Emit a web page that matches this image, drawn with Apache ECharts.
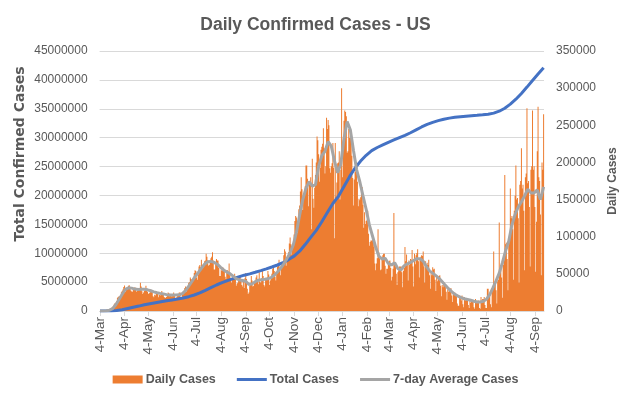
<!DOCTYPE html>
<html><head><meta charset="utf-8">
<script src="https://cdn.jsdelivr.net/npm/echarts@6/dist/echarts.min.js"></script>
<style>html,body{margin:0;padding:0;background:#fff}#c{width:631px;height:394px}</style>
</head><body><div id="c"></div>
<script>
// ---- data ----
const startDate = '2020-03-04';      // first day on the axis
const dayCount = 561;                // 2020-03-04 .. 2021-09-15
const tickDayOfMonth = 4;            // axis labels "4-Mar", "4-Apr", ...
const monthNames = ['Jan','Feb','Mar','Apr','May','Jun','Jul','Aug','Sep','Oct','Nov','Dec'];

// daily confirmed cases (thousands), one row per week starting Wednesday
const dailyCasesK = [
0.03,0.07,0.07,0.1,0.12,0.19,0.29,
0.4,0.5,0.7,0.8,1.0,1.3,1.9,
2.7,4.6,5.8,7.0,9.0,10.7,11.0,
13.3,17.8,19.0,19.8,19.5,21.2,25.2,
27.0,29.0,32.4,34.2,25.7,29.5,30.5,
32.0,34.0,34.5,30.0,27.7,26.4,26.0,
29.5,31.0,32.0,30.0,26.0,27.0,27.0,
29.0,29.5,38.0,33.0,26.5,23.0,25.0,
27.0,30.0,34.0,29.0,26.0,23.0,24.0,
25.0,29.0,27.0,25.0,20.0,18.5,22.0,
21.0,27.0,25.0,24.0,18.5,22.0,21.0,
23.0,27.0,24.0,22.0,19.0,18.0,18.0,
19.0,23.0,25.0,24.0,20.0,22.0,20.0,
20.0,22.0,25.0,22.0,18.0,17.0,19.0,
21.0,23.0,25.0,25.0,19.0,19.0,23.0,
25.0,27.0,31.0,33.0,26.0,29.0,33.0,
38.0,39.0,45.0,43.0,40.0,39.0,45.0,
51.0,55.0,54.0,45.0,42.0,49.0,60.0,
62.0,59.0,69.0,62.0,60.0,59.0,67.0,
68.0,77.0,73.0,68.0,61.0,62.0,66.0,
71.0,73.0,79.0,68.0,56.0,56.0,64.0,
70.0,68.0,68.0,58.0,47.0,47.0,56.0,
54.0,59.0,58.0,53.0,46.0,43.0,55.0,
55.0,53.0,64.0,48.0,42.0,38.0,44.0,
47.0,46.0,50.0,44.0,34.0,37.0,38.0,
44.0,46.0,46.0,43.0,35.0,33.0,42.0,
31.0,44.0,51.0,43.0,30.0,23.0,25.0,
34.0,36.0,47.0,41.0,33.0,34.0,39.0,
39.0,45.0,48.0,42.0,36.0,52.0,39.0,
38.0,44.0,55.0,47.0,35.0,33.0,43.0,
44.0,45.0,54.0,49.0,35.0,41.0,44.0,
50.0,57.0,58.0,54.0,46.0,41.0,52.0,
60.0,64.0,69.0,55.0,48.0,59.0,61.0,
63.0,75.0,83.0,80.0,61.0,67.0,74.0,
79.0,91.0,99.0,90.0,76.0,85.0,91.0,
103,121,128,126,105,119,137,
142,161,180,164,136,157,161,
168,196,196,178,141,170,174,
180,110,205,151,139,166,183,
200,235,230,211,174,193,217,
221,225,246,219,185,195,260,
245,257,250,192,186,195,199,
226,193,98,226,154,173,199,
200,215,150,190,300,180,230,
256,270,268,262,213,215,245,
233,236,242,209,179,142,177,
187,192,190,174,141,151,149,
153,166,167,143,112,133,117,
121,123,135,104,88,93,95,
95,103,100,86,64,55,64,
71,110,79,71,55,56,72,
75,77,77,61,50,57,57,
66,67,68,58,41,46,57,
132,63,60,50,35,52,55,
60,60,60,52,32,54,58,
86,67,76,62,41,68,62,
70,69,82,60,33,77,63,
75,78,83,67,45,71,73,
75,74,80,60,38,67,62,
65,62,69,48,30,52,48,
59,56,57,42,27,48,40,
46,47,48,34,20,35,32,
36,38,36,26,15,29,26,
30,29,31,21,12,23,22,
25,22,21,10,7,7,19,
17,14,21,9,5,19,14,
17,16,16,8,4,15,11,
15,13,12,5,3,16,11,
14,13,14,4,3,19,12,
16,16,19,8,4,4,30,
30,22,24,9,5,30,32,
80,36,38,28,10,40,42,
119,58,60,45,18,62,68,
183,90,92,70,28,88,100,
165,125,128,110,42,135,155,
196,150,152,125,38,170,175,
219,165,170,135,55,180,185,
273,172,175,140,60,190,195,
270,190,195,140,53,120,215,
275,180,175,130,48,200,190,
265
];

// 7-day average cases (thousands), read every 4 days from startDate
const avgStepDays = 4;
const avg7K = [
0.04,0.15,0.35,1.1,3.2,8.5,15.5,22.5,29,31.2,
30.8,29.5,29,29.2,29.3,28.5,27.2,25.8,24.5,23.7,
23,22,21.7,21.5,21.5,21.8,23.3,27.5,33.5,39.7,
46.2,51.5,57.5,63,66.3,66.8,65.5,63,59,55.3,
52.5,50.3,47,43.5,41.8,41,40,35.7,36.5,39.5,
41.5,42.2,42.8,43.5,45,48,52.5,57.5,63.5,70.5,
78.5,89,106,129,150,165,174,168,170,195,
209,215,228,222,202,186,198,232,255,244,
216,190,174,155,137,116,101,86,74,70,
71,64,62,65,57,55.5,61,63.5,65.5,68,
70.5,70.5,67,60,54,51,47.5,44,39.5,34.5,
30,26,22.5,20,18,16.5,15.5,14.5,13.2,12.2,
12.2,13,16,22,31,40.5,51,65,81,94,
116,130,140,147,155,164,159,159,163,150,167
];

// total confirmed cases (millions), read every 7 days from startDate
const totalStepDays = 7;
const totalM = [
0.00015,0.0013,0.0094,0.068,0.215,0.43,0.64,0.85,1.07,1.26,
1.43,1.60,1.76,1.91,2.06,2.24,2.48,2.77,3.13,3.57,
4.04,4.50,4.90,5.27,5.61,5.91,6.20,6.43,6.70,6.99,
7.29,7.61,7.96,8.36,8.90,9.50,10.35,11.50,12.75,13.95,
15.45,17.05,18.60,19.85,21.55,23.25,24.75,25.95,26.95,27.75,
28.30,28.75,29.20,29.60,30.00,30.40,30.85,31.35,31.85,32.30,
32.65,32.95,33.20,33.38,33.52,33.62,33.72,33.80,33.87,33.95,
34.05,34.25,34.58,35.10,35.80,36.65,37.65,38.75,39.90,41.00,42.10
];

// ---- build ----
const categories = [];
{
  const p = startDate.split('-').map(Number);
  const t0 = Date.UTC(p[0], p[1]-1, p[2]);
  for (let i = 0; i < dayCount; i++) {
    const d = new Date(t0 + i*86400000);
    categories.push(d.toISOString().slice(0,10));
  }
}
const isTick = (idx, val) => Number(String(val).slice(8,10)) === tickDayOfMonth;
const fmtDate = v => Number(v.slice(8,10)) + '-' + monthNames[Number(v.slice(5,7))-1];
const plain = v => String(v);
// thin line legend icon (line centred in the icon box)
const lineIcon = 'path://M0,0L30,0L30,0.01L0,0.01Z M0,2.5L30,2.5L30,5.5L0,5.5Z M0,7.99L30,7.99L30,8L0,8Z';

const txt = '#595959';
const chart = echarts.init(document.getElementById('c'), null, {renderer:'canvas'});
chart.setOption({
  animation: false,
  backgroundColor: '#fff',
  textStyle: {fontFamily: 'Liberation Sans, Arial, sans-serif'},
  title: {
    text: 'Daily Confirmed Cases - US', left: 'center', top: 11,
    textStyle: {fontSize: 17.5, fontWeight: 'bold', color: txt, fontFamily: 'Liberation Sans, Arial, sans-serif'}
  },
  legend: {
    data: [
      {name: 'Daily Cases', icon: 'rect'},
      {name: 'Total Cases', icon: lineIcon},
      {name: '7-day Average Cases', icon: lineIcon}
    ],
    left: 'center', top: 368, itemWidth: 30, itemHeight: 8, itemGap: 21,
    textStyle: {fontSize: 12.5, fontWeight: 'bold', color: txt, padding: [0,0,0,-2]}
  },
  grid: {left: 99.6, right: 87, top: 51, bottom: 83},
  xAxis: {
    type: 'category', data: categories, boundaryGap: true,
    axisLine: {lineStyle: {color: '#D9D9D9'}},
    axisTick: {show: true, alignWithLabel: true, interval: isTick, length: 5, lineStyle: {color: '#D9D9D9'}},
    axisLabel: {interval: isTick, rotate: 90, formatter: fmtDate, fontSize: 13.5, color: txt, margin: 6},
    splitLine: {show: false}
  },
  yAxis: [
    {type: 'value', min: 0, max: 45000000, interval: 5000000,
     axisLine: {show: false}, axisTick: {show: false},
     axisLabel: {fontSize: 12, color: txt, margin: 12, formatter: plain},
     splitLine: {lineStyle: {color: '#D9D9D9', width: 1}}},
    {type: 'value', position: 'right', min: 0, max: 350000, interval: 50000,
     axisLine: {show: false}, axisTick: {show: false},
     axisLabel: {fontSize: 12, color: txt, margin: 12, formatter: plain},
     splitLine: {show: false}}
  ],
  graphic: [
    {type: 'text', x: 20, y: 154, rotation: Math.PI/2,
     style: {text: 'Total Confirmed Cases', fill: txt, font: 'bold 14px "DejaVu Sans", sans-serif', align: 'center', verticalAlign: 'middle'}},
    {type: 'text', x: 613, y: 181, rotation: Math.PI/2,
     style: {text: 'Daily Cases', fill: txt, font: 'bold 12px "Liberation Sans", Arial, sans-serif', align: 'center', verticalAlign: 'middle'}}
  ],
  series: [
    {name: 'Daily Cases', type: 'bar', yAxisIndex: 1, barWidth: 1,
     large: true, largeThreshold: 100,
     itemStyle: {color: '#ED7D31'}, data: dailyCasesK.map(v => Math.round(v*1000)), z: 1},
    {name: 'Total Cases', type: 'line', yAxisIndex: 0, symbol: 'none', showSymbol: false,
     lineStyle: {width: 3, color: '#4472C4'}, itemStyle: {color: '#4472C4'},
     data: totalM.map((v,i) => [i*totalStepDays, Math.round(v*1e6)]), z: 3},
    {name: '7-day Average Cases', type: 'line', yAxisIndex: 1, symbol: 'none', showSymbol: false,
     lineStyle: {width: 3, color: '#A5A5A5'}, itemStyle: {color: '#A5A5A5'},
     data: avg7K.map((v,i) => [i*avgStepDays, Math.round(v*1000)]), z: 4}
  ]
});
</script></body></html>
